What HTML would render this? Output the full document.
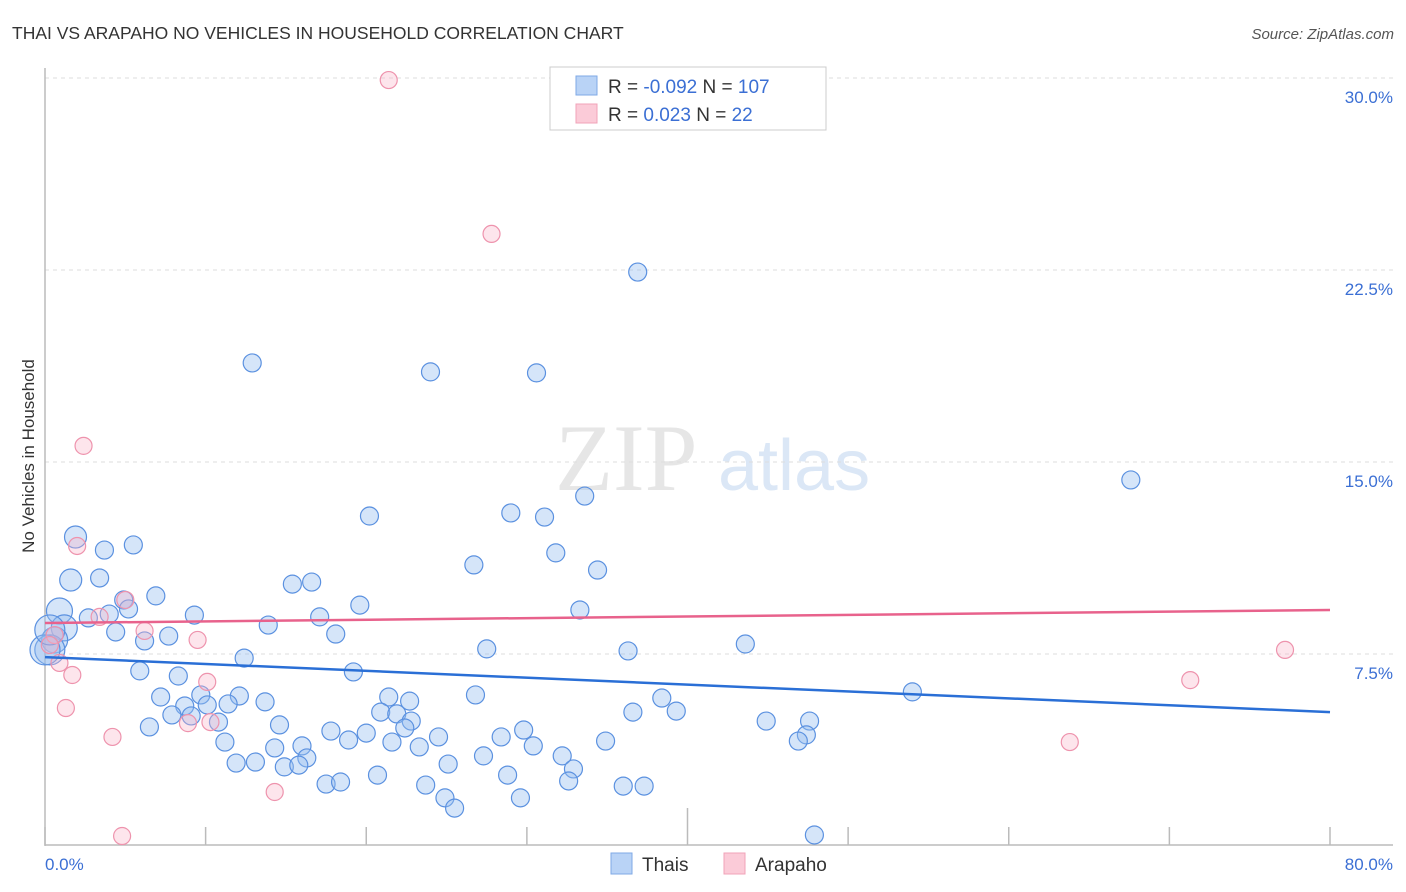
<!DOCTYPE html>
<html><head><meta charset="utf-8"><style>
body{margin:0;background:#fff;font-family:"Liberation Sans",sans-serif}
svg{display:block}
</style></head><body>
<svg width="1406" height="892" viewBox="0 0 1406 892">
<text x="12" y="39" font-size="17.5" fill="#333">THAI VS ARAPAHO NO VEHICLES IN HOUSEHOLD CORRELATION CHART</text>
<text x="1394" y="39" font-size="15" fill="#555" font-style="italic" text-anchor="end">Source: ZipAtlas.com</text>
<text x="0" y="0" transform="translate(34,456) rotate(-90)" font-size="17" fill="#333" text-anchor="middle">No Vehicles in Household</text>
<g>
<text x="555" y="490" font-size="95" fill="#e6e6e6" font-family="Liberation Serif,serif">ZIP</text>
<text x="718" y="490" font-size="72" fill="#dbe7f6">atlas</text>
</g>
<g id="grid"></g>
<g id="axes"></g>
<g id="marks"></g>
<g>
<rect x="550" y="67" width="276" height="63" fill="#fff" stroke="#ccc"/>
<rect x="576" y="76" width="21" height="19" fill="#b9d3f6" stroke="#7fa9e6"/>
<rect x="576" y="104" width="21" height="19" fill="#fbcbd8" stroke="#f0a3b8"/>
<text x="608" y="93" font-size="19" fill="#333">R = <tspan fill="#3b6fd4">-0.092</tspan>   N = <tspan fill="#3b6fd4">107</tspan></text>
<text x="608" y="121" font-size="19" fill="#333">R = <tspan fill="#3b6fd4"> 0.023</tspan>   N = <tspan fill="#3b6fd4">  22</tspan></text>
</g>
<g>
<rect x="611" y="853" width="21" height="21" fill="#b9d3f6" stroke="#7fa9e6"/>
<text x="642" y="871" font-size="19" fill="#333">Thais</text>
<rect x="724" y="853" width="21" height="21" fill="#fbcbd8" stroke="#f0a3b8"/>
<text x="755" y="871" font-size="19" fill="#333">Arapaho</text>
</g>
</svg>
<script>
const yTicks=[7.5,15,22.5,30];
const yTickLabels=["7.5%","15.0%","22.5%","30.0%"];
const xTicks=[0,10,20,30,40,50,60,70,80];
const xEndLabels=["0.0%","80.0%"];
const thaiX=[12.9,24.0,30.6,36.9,67.6,33.6,20.2,29.0,31.1,1.9,3.7,5.5,31.8,26.7,34.4,1.6,3.4,15.4,16.6,0.9,4.9,6.9,5.2,9.3,2.7,4.0,1.2,19.6,17.1,33.3,13.9,18.1,4.4,7.7,6.2,0.6,0.3,27.5,36.3,43.6,12.4,5.9,8.3,19.2,54.0,7.2,9.7,12.1,13.7,21.4,22.7,26.8,38.4,8.7,10.1,11.4,7.9,9.1,10.8,20.9,21.9,22.8,36.6,39.3,44.9,47.6,6.5,14.6,17.8,22.4,29.8,11.2,18.9,20.0,24.5,28.4,47.4,46.9,14.3,16.0,21.6,23.3,30.4,34.9,11.9,13.1,16.3,14.9,15.8,25.1,27.3,32.2,32.9,20.7,28.8,17.5,18.4,23.7,32.6,36.0,37.3,24.9,25.5,29.6,47.9,0.0,0.3];
const thaiY=[18.87,18.52,18.48,22.42,14.30,13.67,12.89,13.01,12.85,12.07,11.56,11.76,11.45,10.98,10.78,10.39,10.47,10.23,10.31,9.18,9.61,9.77,9.26,9.02,8.91,9.06,8.52,9.41,8.95,9.22,8.63,8.28,8.36,8.20,8.01,8.05,7.66,7.70,7.62,7.89,7.34,6.84,6.64,6.80,6.02,5.82,5.90,5.86,5.63,5.82,5.66,5.90,5.78,5.47,5.51,5.55,5.12,5.08,4.84,5.23,5.16,4.88,5.23,5.27,4.88,4.88,4.65,4.73,4.49,4.61,4.53,4.06,4.14,4.41,4.26,4.26,4.34,4.10,3.83,3.91,4.06,3.87,3.91,4.10,3.24,3.28,3.44,3.09,3.16,3.20,3.52,3.52,3.01,2.77,2.77,2.42,2.50,2.38,2.54,2.34,2.34,1.88,1.48,1.88,0.43,7.66,8.44];
const thaiBig=[9,12,10,13,11,14,15,16];
const arapahoX=[21.4,27.8,2.4,2.0,5.0,3.4,6.2,9.5,0.6,0.3,0.9,1.7,1.3,4.2,8.9,10.1,10.3,14.3,4.8,63.8,71.3,77.2];
const arapahoY=[29.92,23.91,15.63,11.72,9.61,8.95,8.40,8.05,8.24,7.85,7.15,6.68,5.39,4.26,4.80,6.41,4.84,2.11,0.39,4.06,6.48,7.66];
const thaiTrend=[7.38,5.23];
const arapahoTrend=[8.71,9.22];

const NS="http://www.w3.org/2000/svg";
const X0=45,X1=1330,YB=846,PXPER=192/7.5;
function sx(v){return X0+(X1-X0)*v/80;}
function sy(v){return YB-v*PXPER;}
function mk(tag,attrs,parent){const e=document.createElementNS(NS,tag);for(const k in attrs)e.setAttribute(k,attrs[k]);parent.appendChild(e);return e;}
const grid=document.getElementById('grid'),axes=document.getElementById('axes'),marks=document.getElementById('marks');
yTicks.forEach((t,i)=>{
  const l=mk('line',{x1:X0,x2:1393,y1:sy(t),y2:sy(t),stroke:'#ddd','stroke-dasharray':'4,4'},grid);
  
  
  const tx=mk('text',{x:1393,y:sy(t)+25,'font-size':17,fill:'#3b6fd4','text-anchor':'end'},grid);
  tx.textContent=yTickLabels[i];
  
  
});
const ya=mk('line',{x1:X0,x2:X0,y1:68,y2:846,stroke:'#bbb','stroke-width':1.5},axes);


const xa=mk('line',{x1:X0,x2:1393,y1:845,y2:845,stroke:'#bbb','stroke-width':1.5},axes);


xTicks.forEach(t=>{
  const tk=mk('line',{x1:sx(t),x2:sx(t),y1:(t===40?808:827),y2:845,stroke:'#bbb','stroke-width':1.5},axes);
  
  
});
const xl0=mk('text',{x:45,y:870,'font-size':17,fill:'#3b6fd4'},axes);xl0.textContent=xEndLabels[0];


const xl1=mk('text',{x:1393,y:870,'font-size':17,fill:'#3b6fd4','text-anchor':'end'},axes);xl1.textContent=xEndLabels[1];


thaiX.forEach((v,i)=>{
  let r=9;
  if(thaiY[i]>10&&v<2.5)r=11;
  if(v<1.3&&thaiY[i]>7&&thaiY[i]<9.5)r=13;
  if(v<0.5)r=15;
  const c=mk('circle',{cx:sx(v),cy:sy(thaiY[i]),r:r,fill:'rgba(150,190,240,0.4)',stroke:'#5b91e0','stroke-width':1.2},marks);
  
  
});
arapahoX.forEach((v,i)=>{
  const c=mk('circle',{cx:sx(v),cy:sy(arapahoY[i]),r:8.5,fill:'rgba(250,180,200,0.35)',stroke:'#ee93ad','stroke-width':1.2},marks);
  
  
});
const tl=mk('line',{x1:sx(0),x2:sx(80),y1:sy(thaiTrend[0]),y2:sy(thaiTrend[1]),stroke:'#2a6fd6','stroke-width':2.5},marks);


const al=mk('line',{x1:sx(0),x2:sx(80),y1:sy(arapahoTrend[0]),y2:sy(arapahoTrend[1]),stroke:'#e8628c','stroke-width':2.5},marks);


</script>
</body></html>
